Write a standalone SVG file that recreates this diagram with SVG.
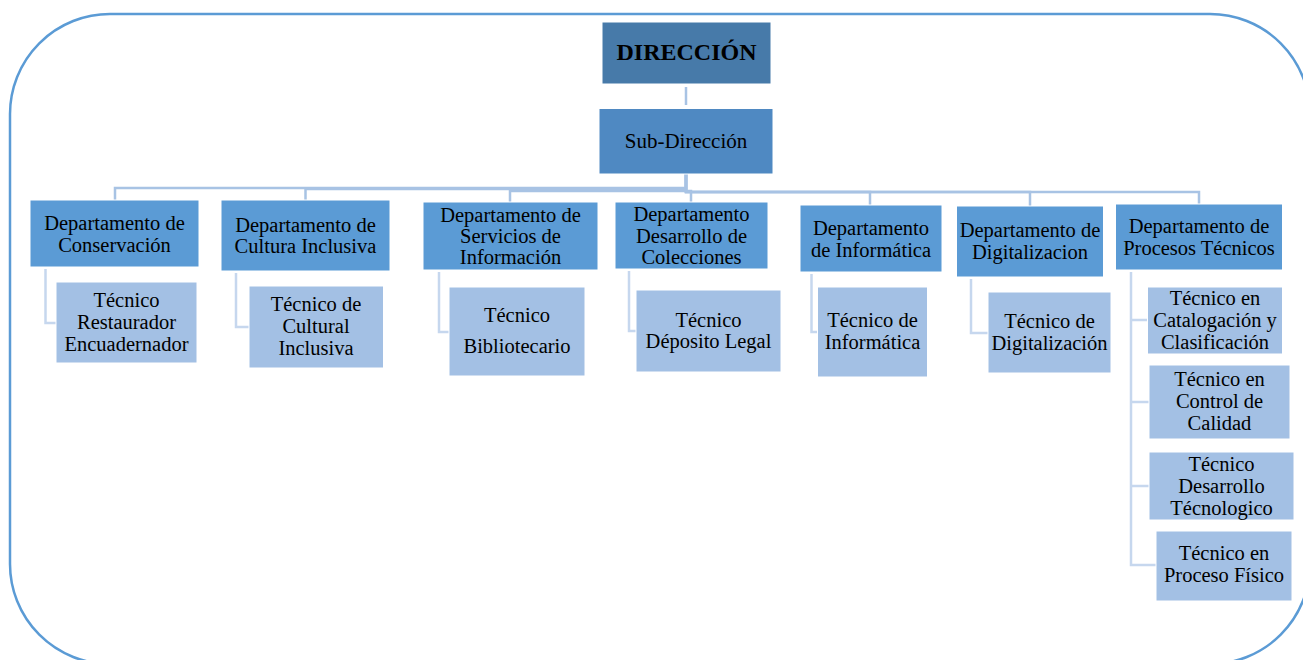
<svg xmlns="http://www.w3.org/2000/svg" width="1303" height="660" viewBox="0 0 1303 660">
  <style>
    .frame { fill: none; stroke: #5b9bd5; stroke-width: 2.5; }
    .top { fill: #477aa9; stroke: #ffffff; stroke-width: 1; }
    .sub { fill: #4f89c2; stroke: #ffffff; stroke-width: 1; }
    .dept { fill: #5b9bd5; stroke: #ffffff; stroke-width: 1; }
    .tec { fill: #a3c0e4; stroke: #ffffff; stroke-width: 1; }
    .lnk { fill: none; stroke: #a8c3e4; stroke-width: 2.5; }
    .lnk2 { fill: none; stroke: #c6d7ee; stroke-width: 2.5; }
    text { font-family: "Liberation Serif", "Times New Roman", serif; font-size: 20.5px; fill: #000000; text-anchor: middle; }
    .h1 { font-size: 24px; font-weight: bold; }
    .h2 { font-size: 21px; }
  </style>

  <!-- outer rounded frame -->
  <rect class="frame" x="10" y="14" width="1300" height="650" rx="100" ry="100"/>

  <!-- connectors -->
  <g id="connectors">
    <path class="lnk" d="M686,87 V105"/>
    <path class="lnk" d="M686,174 V188 H115 V200"/>
    <path class="lnk" d="M686,174 V189 H305.5 V200"/>
    <path class="lnk" d="M686,174 V191 H510 V202"/>
    <path class="lnk" d="M686,174 V191 H691 V202"/>
    <path class="lnk" d="M686,174 V192 H870 V205"/>
    <path class="lnk" d="M686,174 V192 H1030 V206"/>
    <path class="lnk" d="M686,174 V192 H1199 V204"/>

    <path class="lnk2" d="M45.5,269 V323 H56"/>
    <path class="lnk2" d="M236,273 V327 H249"/>
    <path class="lnk2" d="M439,272 V332 H449"/>
    <path class="lnk2" d="M629,271 V331 H636"/>
    <path class="lnk2" d="M811.5,274 V332 H817.5"/>
    <path class="lnk2" d="M971,279 V333 H988"/>
    <path class="lnk2" d="M1131,272 V565 H1156"/>
    <path class="lnk2" d="M1131,320 H1148"/>
    <path class="lnk2" d="M1131,402 H1149"/>
    <path class="lnk2" d="M1131,486 H1149"/>
  </g>

  <g id="direccion">
    <rect class="top" x="602" y="22" width="169" height="62"/>
    <text class="h1" x="686.5" y="60">DIRECCIÓN</text>
  </g>

  <g id="subdireccion">
    <rect class="sub" x="599" y="108.5" width="174" height="65.5"/>
    <text class="h2" x="686" y="147.5">Sub-Dirección</text>
  </g>

  <g id="dep-conservacion">
    <rect class="dept" x="30" y="200" width="169" height="67"/>
    <text x="114.5" y="229.5">Departamento de</text>
    <text x="114.5" y="251.5">Conservación</text>
  </g>
  <g id="dep-cultura">
    <rect class="dept" x="221" y="200" width="169" height="71"/>
    <text x="305.5" y="231.5">Departamento de</text>
    <text x="305.5" y="253">Cultura Inclusiva</text>
  </g>
  <g id="dep-servicios">
    <rect class="dept" x="423" y="202" width="175" height="68"/>
    <text x="510.5" y="221.5">Departamento de</text>
    <text x="510.5" y="243">Servicios de</text>
    <text x="510.5" y="264">Información</text>
  </g>
  <g id="dep-colecciones">
    <rect class="dept" x="615" y="202" width="153" height="67"/>
    <text x="691.5" y="221">Departamento</text>
    <text x="691.5" y="242.5">Desarrollo de</text>
    <text x="691.5" y="264">Colecciones</text>
  </g>
  <g id="dep-informatica">
    <rect class="dept" x="800" y="205" width="142" height="67"/>
    <text x="871" y="235">Departamento</text>
    <text x="871" y="257">de Informática</text>
  </g>
  <g id="dep-digitalizacion">
    <rect class="dept" x="956.5" y="206" width="147" height="71"/>
    <text x="1030" y="237">Departamento de</text>
    <text x="1030" y="258.5">Digitalizacion</text>
  </g>
  <g id="dep-procesos">
    <rect class="dept" x="1115.5" y="204" width="167" height="66"/>
    <text x="1199" y="233">Departamento de</text>
    <text x="1199" y="254.5">Procesos Técnicos</text>
  </g>

  <g id="tec-restaurador">
    <rect class="tec" x="56" y="282" width="141" height="81"/>
    <text x="126.5" y="306.5">Técnico</text>
    <text x="126.5" y="328.5">Restaurador</text>
    <text x="126.5" y="351">Encuadernador</text>
  </g>
  <g id="tec-cultural">
    <rect class="tec" x="249" y="286" width="134.5" height="82"/>
    <text x="316" y="311">Técnico de</text>
    <text x="316" y="332.5">Cultural</text>
    <text x="316" y="355">Inclusiva</text>
  </g>
  <g id="tec-bibliotecario">
    <rect class="tec" x="449" y="287" width="136" height="89"/>
    <text x="517" y="321.5">Técnico</text>
    <text x="517" y="353">Bibliotecario</text>
  </g>
  <g id="tec-deposito">
    <rect class="tec" x="636" y="290" width="145" height="82"/>
    <text x="708.5" y="326.5">Técnico</text>
    <text x="708.5" y="348">Déposito Legal</text>
  </g>
  <g id="tec-informatica">
    <rect class="tec" x="817.5" y="287" width="110" height="90"/>
    <text x="872.5" y="327">Técnico de</text>
    <text x="872.5" y="349">Informática</text>
  </g>
  <g id="tec-digitalizacion">
    <rect class="tec" x="988" y="292" width="123" height="81"/>
    <text x="1049.5" y="328">Técnico de</text>
    <text x="1049.5" y="350">Digitalización</text>
  </g>
  <g id="tec-catalogacion">
    <rect class="tec" x="1147.5" y="287" width="135" height="67"/>
    <text x="1215" y="305">Técnico en</text>
    <text x="1215" y="327">Catalogación y</text>
    <text x="1215" y="349">Clasificación</text>
  </g>
  <g id="tec-calidad">
    <rect class="tec" x="1149" y="365" width="141" height="74"/>
    <text x="1219.5" y="386">Técnico en</text>
    <text x="1219.5" y="408">Control de</text>
    <text x="1219.5" y="430">Calidad</text>
  </g>
  <g id="tec-desarrollo">
    <rect class="tec" x="1149" y="452" width="145" height="68"/>
    <text x="1221.5" y="470.5">Técnico</text>
    <text x="1221.5" y="492.5">Desarrollo</text>
    <text x="1221.5" y="514.5">Técnologico</text>
  </g>
  <g id="tec-proceso-fisico">
    <rect class="tec" x="1156" y="531" width="136" height="70"/>
    <text x="1224" y="560">Técnico en</text>
    <text x="1224" y="582">Proceso Físico</text>
  </g>
</svg>
